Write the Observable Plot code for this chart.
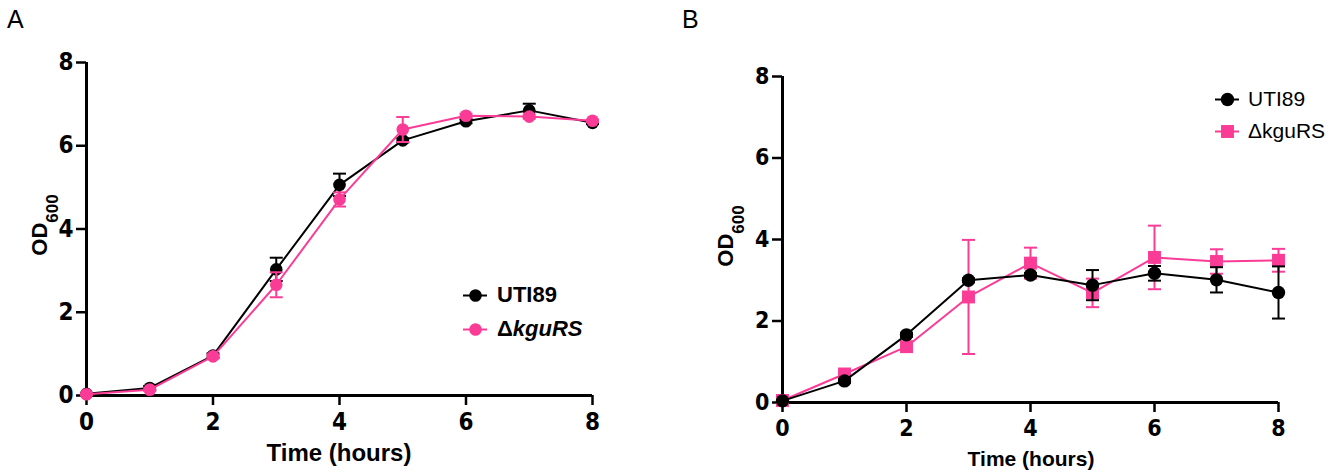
<!DOCTYPE html>
<html>
<head>
<meta charset="utf-8">
<script src="https://cdn.jsdelivr.net/npm/d3@7"></script>
<script src="https://cdn.jsdelivr.net/npm/@observablehq/plot@0.6"></script>
<style>
  html, body { margin: 0; padding: 0; background: #fff; }
  #wrap { position: relative; width: 1343px; height: 472px; overflow: hidden; background: #fff;
          font-family: "Liberation Sans", Arial, Helvetica, sans-serif; color: #000; }
  .panel { position: absolute; top: 0; }
  .leg { position: absolute; line-height: 1; white-space: nowrap; transform: translateY(-50%); }
  .sw { position: absolute; }
  #overlay { position: absolute; left: 0; top: 0; pointer-events: none; }
</style>
</head>
<body>
<div id="wrap"></div>
<script>
// ---------------- data ----------------
const hours = [0, 1, 2, 3, 4, 5, 6, 7, 8];
const xTicks = [0, 2, 4, 6, 8];
const yTicks = [0, 2, 4, 6, 8];
const seriesNames = ["UTI89", "ΔkguRS"];

// Panel A (mean, SD)
const utiA    = [0.04, 0.18, 0.96, 3.03, 5.06, 6.13, 6.59, 6.85, 6.55];
const utiA_sd = [0.02, 0.05, 0.05, 0.28, 0.27, 0.05, 0.05, 0.16, 0.03];
const kguA    = [0.03, 0.14, 0.94, 2.66, 4.71, 6.39, 6.72, 6.70, 6.60];
const kguA_sd = [0.02, 0.03, 0.05, 0.30, 0.17, 0.30, 0.05, 0.05, 0.03];

// Panel B (mean, SD)
const utiB    = [0.04, 0.53, 1.66, 3.00, 3.13, 2.88, 3.17, 3.01, 2.70];
const utiB_sd = [0.02, 0.05, 0.05, 0.05, 0.05, 0.37, 0.18, 0.31, 0.64];
const kguB    = [0.05, 0.70, 1.37, 2.59, 3.42, 2.69, 3.56, 3.46, 3.49];
const kguB_sd = [0.02, 0.05, 0.05, 1.40, 0.38, 0.35, 0.78, 0.30, 0.28];

const BLACK = "#000000";
const PINK = "#fb3c97";
const FONT = "'Liberation Sans', Arial, Helvetica, sans-serif";
const NARROW = "'Liberation Sans Narrow', 'Arial Narrow', 'DejaVu Sans Condensed', 'Liberation Sans', Arial, sans-serif";

const rows = (vals, sds) => hours.map((t, i) => ({t, v: vals[i], sd: sds[i]}));

// horizontal cap symbol for error bars
const capSymbol = {
  draw(ctx, size) {
    const r = Math.sqrt(size / Math.PI);
    ctx.moveTo(-r, 0);
    ctx.lineTo(r, 0);
  }
};

function seriesMarks(data, color, symbol, r) {
  return [
    Plot.ruleX(data, {x: "t", y1: d => d.v - d.sd, y2: d => d.v + d.sd, stroke: color, strokeWidth: 2}),
    Plot.dot(data, {x: "t", y: d => d.v + d.sd, symbol: capSymbol, r: 6.5, stroke: color, strokeWidth: 2, fill: "none"}),
    Plot.dot(data, {x: "t", y: d => d.v - d.sd, symbol: capSymbol, r: 6.5, stroke: color, strokeWidth: 2, fill: "none"}),
    Plot.line(data, {x: "t", y: "v", stroke: color, strokeWidth: 2}),
    Plot.dot(data, {x: "t", y: "v", symbol, r, fill: color, stroke: "none"})
  ];
}

function axes(fontSize, fontFamily) {
  return [
    Plot.axisX({ticks: xTicks, tickSize: 10, tickPadding: 7, strokeWidth: 2.5, fontSize, fontFamily, fontWeight: "bold", label: null, tickFormat: d => String(d)}),
    Plot.axisY({ticks: yTicks, tickSize: 10, tickPadding: 3, strokeWidth: 2.5, fontSize, fontFamily, fontWeight: "bold", label: null, tickFormat: d => String(d)}),
    Plot.ruleY([0], {strokeWidth: 3}),
    Plot.ruleX([0], {strokeWidth: 3})
  ];
}

const wrap = document.getElementById("wrap");

// ---------------- Panel A ----------------
const plotA = Plot.plot({
  width: 640, height: 472,
  marginLeft: 86, marginRight: 48, marginTop: 62, marginBottom: 77,
  x: {domain: [0, 8]},
  y: {domain: [0, 8]},
  style: {fontFamily: NARROW, fontSize: "24px", fontWeight: "bold", background: "transparent", overflow: "visible", color: "#000"},
  marks: [
    ...axes(24, NARROW),
    ...seriesMarks(rows(utiA, utiA_sd), BLACK, "circle", 6.3),
    ...seriesMarks(rows(kguA, kguA_sd), PINK, "circle", 6.3)
  ]
});
plotA.classList.add("panel");
plotA.style.left = "0px";
wrap.appendChild(plotA);

// ---------------- Panel B ----------------
const plotB = Plot.plot({
  width: 663, height: 472,
  marginLeft: 102, marginRight: 65, marginTop: 76, marginBottom: 70,
  x: {domain: [0, 8]},
  y: {domain: [0, 8]},
  style: {fontFamily: NARROW, fontSize: "23px", fontWeight: "bold", background: "transparent", overflow: "visible", color: "#000"},
  marks: [
    ...axes(23, NARROW),
    ...seriesMarks(rows(kguB, kguB_sd), PINK, "square", 7.3),
    ...seriesMarks(rows(utiB, utiB_sd), BLACK, "circle", 6.7)
  ]
});
plotB.classList.add("panel");
plotB.style.left = "680px";
wrap.appendChild(plotB);

// ---------------- text overlay ----------------
const NS = "http://www.w3.org/2000/svg";
const ov = document.createElementNS(NS, "svg");
ov.setAttribute("id", "overlay");
ov.setAttribute("width", 1343);
ov.setAttribute("height", 472);
ov.setAttribute("font-family", FONT);
wrap.appendChild(ov);

function txt(x, y, s, attrs) {
  const t = document.createElementNS(NS, "text");
  t.setAttribute("x", x); t.setAttribute("y", y);
  for (const k in attrs) t.setAttribute(k, attrs[k]);
  t.textContent = s;
  ov.appendChild(t);
  return t;
}
function odLabel(xBase, yCenter, fs, subFs, subDy) {
  const t = document.createElementNS(NS, "text");
  t.setAttribute("transform", `translate(${xBase},${yCenter}) rotate(-90)`);
  t.setAttribute("text-anchor", "middle");
  t.setAttribute("font-weight", "bold");
  t.setAttribute("font-size", fs);
  const a = document.createElementNS(NS, "tspan"); a.textContent = "OD";
  const b = document.createElementNS(NS, "tspan"); b.textContent = "600";
  b.setAttribute("font-size", subFs); b.setAttribute("dy", subDy);
  t.appendChild(a); t.appendChild(b);
  ov.appendChild(t);
}

txt(7, 28, "A", {"font-size": 25});
txt(682, 28, "B", {"font-size": 25});
txt(339, 461, "Time (hours)", {"font-size": 24, "font-weight": "bold", "text-anchor": "middle"});
txt(1031, 466, "Time (hours)", {"font-size": 21, "font-weight": "bold", "text-anchor": "middle"});
odLabel(47, 225, 22, 17, 11);
odLabel(733, 236, 22, 17, 11);

// ---------------- legends ----------------
function legendRow(cx, cy, color, symbol, r, label, textLeft, font) {
  const sw = document.createElement("div");
  sw.className = "sw";
  sw.style.left = (cx - 14) + "px";
  sw.style.top = (cy - 10) + "px";
  const s = Plot.plot({
    width: 28, height: 20, margin: 0,
    x: {domain: [-14, 14], axis: null}, y: {domain: [-10, 10], axis: null},
    style: {background: "transparent", overflow: "visible"},
    marks: [
      Plot.ruleY([0], {x1: -12, x2: 12, stroke: color, strokeWidth: 2}),
      Plot.dot([0], {x: 0, y: 0, symbol, r, fill: color, stroke: "none"})
    ]
  });
  sw.appendChild(s);
  wrap.appendChild(sw);
  const t = document.createElement("div");
  t.className = "leg";
  t.style.left = textLeft + "px";
  t.style.top = cy + "px";
  t.style.font = font;
  t.innerHTML = label;
  wrap.appendChild(t);
}
legendRow(475, 295, BLACK, "circle", 6.3, seriesNames[0], 497, `bold 22px ${FONT}`);
legendRow(475, 329, PINK, "circle", 6.3, `Δ<i>${seriesNames[1].slice(1)}</i>`, 497, `bold 22px ${FONT}`);
legendRow(1227, 99, BLACK, "circle", 6.7, seriesNames[0], 1248, `21px ${FONT}`);
legendRow(1227, 131, PINK, "square", 7.3, seriesNames[1], 1248, `21px ${FONT}`);
</script>
</body>
</html>
